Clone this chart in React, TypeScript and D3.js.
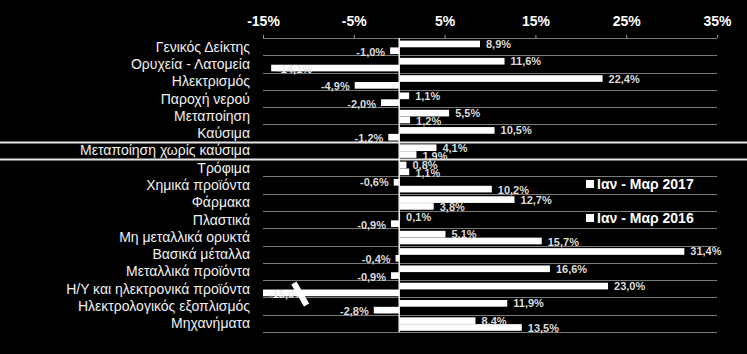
import * as d3 from "d3"
import React from "react"

const categories = [
  "Γενικός Δείκτης",
  "Ορυχεία - Λατομεία",
  "Ηλεκτρισμός",
  "Παροχή νερού",
  "Μεταποίηση",
  "Καύσιμα",
  "Μεταποίηση χωρίς καύσιμα",
  "Τρόφιμα",
  "Χημικά προϊόντα",
  "Φάρμακα",
  "Πλαστικά",
  "Μη μεταλλικά ορυκτά",
  "Βασικά μέταλλα",
  "Μεταλλικά προϊόντα",
  "Η/Υ και ηλεκτρονικά προϊόντα",
  "Ηλεκτρολογικός εξοπλισμός",
  "Μηχανήματα",
]

// top bar of each row
const values2017 = [8.9, 11.6, 22.4, 1.1, 5.5, 10.5, 4.1, 0.8, -0.6, 12.7, 0.1, 5.1, 31.4, 16.6, 23.0, 11.9, 8.4]
// bottom bar of each row
const values2016 = [-1.0, -14.1, -4.9, -2.0, 1.2, -1.2, 1.9, 1.1, 10.2, 3.8, -0.9, 15.7, -0.4, -0.9, -15.0, -2.8, 13.5]

const series = ["Ιαν - Μαρ 2017", "Ιαν - Μαρ 2016"]
const tickValues = [-15, -5, 5, 15, 25, 35]
const highlighted = "Μεταποίηση χωρίς καύσιμα"
const brokenRow = "Η/Υ και ηλεκτρονικά προϊόντα"

const width = 747
const height = 354
const font = "'Liberation Sans', Arial, sans-serif"

const fmt = (v: number) => v.toFixed(1).replace(".", ",") + "%"

const drawChart = (el: SVGSVGElement) => {
  const svg = d3.select(el)
  svg.selectAll("*").remove()

  const x = d3.scaleLinear().domain([-15, 35]).range([263, 717])
  const y = d3.scaleBand().domain(categories).range([38, 332])
  const sub = d3.scaleBand().domain(series).range([2.6, y.bandwidth() - 1.2]).paddingInner(0.02)

  svg.append("rect").attr("width", width).attr("height", height).attr("fill", "#000")

  // row separators (index i = top edge of row i, last = bottom edge)
  const hi = categories.indexOf(highlighted)
  const isHi = (i: number) => i === hi || i === hi + 1
  const edges = d3.range(categories.length + 1)
  const edgeY = (i: number) => y.range()[0] + i * y.step()
  svg.append("g")
    .selectAll("line")
    .data(edges)
    .join("line")
    .attr("x1", (i) => (isHi(i) ? 0 : x(-15)))
    .attr("x2", (i) => (isHi(i) ? width : x(35)))
    .attr("y1", (i) => Math.round(edgeY(i)) + 0.5)
    .attr("y2", (i) => Math.round(edgeY(i)) + 0.5)
    .attr("stroke", (i) => (isHi(i) ? "#e6e6e6" : "#7a7a7a"))
    .attr("stroke-width", (i) => (isHi(i) ? 2 : 1))

  // axis
  const axis = d3.axisTop(x).tickValues(tickValues).tickSize(3).tickFormat((d: any) => `${d}%`)
  svg.append("g")
    .attr("transform", `translate(0,${y.range()[0]})`)
    .call(axis)
    .call((g: any) => g.select(".domain").remove())
    .call((g: any) => g.selectAll(".tick line").attr("stroke", "#9a9a9a"))
    .call((g: any) => g.selectAll(".tick text")
      .attr("fill", "#fff")
      .attr("y", -12)
      .attr("font-size", 14)
      .attr("font-weight", "bold")
      .attr("font-family", font))

  // category labels
  svg.append("g")
    .selectAll("text")
    .data(categories)
    .join("text")
    .attr("x", 250)
    .attr("y", (d) => y(d)! + y.bandwidth() / 2 + 5)
    .attr("text-anchor", "end")
    .attr("fill", "#f0f0f0")
    .attr("font-size", 14)
    .attr("font-family", font)
    .text((d) => d)

  const rows = categories.flatMap((c, i) => [
    { cat: c, s: series[0], v: values2017[i] },
    { cat: c, s: series[1], v: values2016[i] },
  ])

  svg.append("g")
    .selectAll("rect")
    .data(rows)
    .join("rect")
    .attr("x", (d) => x(Math.min(0, d.v)))
    .attr("y", (d) => y(d.cat)! + sub(d.s)!)
    .attr("width", (d) => Math.abs(x(d.v) - x(0)))
    .attr("height", sub.bandwidth())
    .attr("fill", "#fff")

  // value labels
  svg.append("g")
    .selectAll("text")
    .data(rows)
    .join("text")
    .attr("x", (d) => {
      if (d.v < -10) return x(d.v) + 6
      return d.v >= 0 ? x(d.v) + 6 : x(d.v) - 5
    })
    .attr("y", (d) => y(d.cat)! + sub(d.s)! + sub.bandwidth() / 2 + (d.s === series[0] ? 4 : 5))
    .attr("text-anchor", (d) => (d.v >= 0 || d.v < -10 ? "start" : "end"))
    .attr("fill", (d) => (d.v < -10 ? "#ececec" : "#dcdcdc"))
    .attr("font-size", 11)
    .attr("font-weight", "bold")
    .attr("font-family", font)
    .text((d) => fmt(d.v))

  // zero line
  svg.append("line")
    .attr("x1", x(0)).attr("x2", x(0))
    .attr("y1", y.range()[0]).attr("y2", y.range()[1])
    .attr("stroke", "#f2f2f2")
    .attr("stroke-width", 1.5)

  // axis break mark on the clipped bar
  const by = y(brokenRow)!
  svg.append("line")
    .attr("x1", x(-11.6)).attr("y1", by + 3)
    .attr("x2", x(-10.2)).attr("y2", by + 25)
    .attr("stroke", "#fff")
    .attr("stroke-width", 6)

  // legend
  const legend = svg.append("g")
    .selectAll("g")
    .data(series)
    .join("g")
    .attr("transform", (d, i) => `translate(586,${180 + i * 34})`)
  legend.append("rect").attr("width", 8).attr("height", 8).attr("y", 0).attr("fill", "#fff")
  legend.append("text")
    .attr("x", 11)
    .attr("y", 9)
    .attr("fill", "#fff")
    .attr("font-size", 14)
    .attr("font-weight", "bold")
    .attr("font-family", font)
    .text((d) => d)
}

const App = () => {
  const ref = React.useRef<SVGSVGElement>(null)
  React.useEffect(() => {
    if (ref.current) drawChart(ref.current)
  }, [])

  return (
    <svg
      ref={ref}
      width={width}
      height={height}
      viewBox={`0 0 ${width} ${height}`}
      style={{ position: "absolute", left: 0, top: 0, background: "#000" }}
    />
  )
}

export default App
